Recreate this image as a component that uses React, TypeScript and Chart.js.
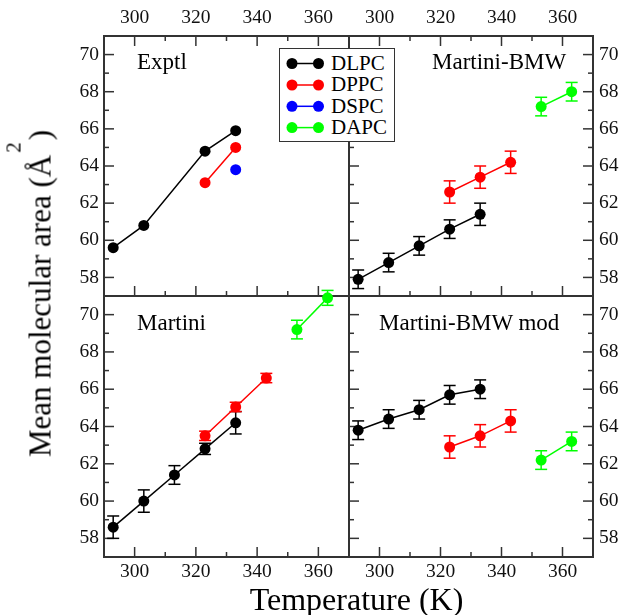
import React, { useEffect, useRef } from 'react';
import { Chart, registerables } from 'chart.js';

Chart.register(...registerables);

const FONT = "'Liberation Serif', 'Times New Roman', Times, serif";
Chart.defaults.font.family = FONT;

const W = 621;
const H = 615;
const FRAME = '#333333';

// ---- axis ranges & tick labels ----
const xRange = [290, 370];
const yRange = [57, 71];
const xTickLabels = [300, 320, 340, 360];
const yTickLabels = [58, 60, 62, 64, 66, 68, 70];

// ---- series names & colours ----
const seriesNames = ['DLPC', 'DPPC', 'DSPC', 'DAPC'];
const seriesColors = ['#000000', '#ff0000', '#0000ff', '#00ff00'];

// ---- temperatures (K) ----
const exptlDlpcT = [293, 303, 323, 333];
const exptlDppcT = [323, 333];
const exptlDspcT = [333];
const simDlpcT = [293, 303, 313, 323, 333];
const simDppcT = [323, 333, 343];
const simDapcT = [353, 363];

// ---- Exptl ----
const exptlDLPC = [59.6, 60.8, 64.8, 65.9];
const exptlDPPC = [63.1, 65.0];
const exptlDSPC = [63.8];

// ---- Martini-BMW ----
const bmwDLPC = [57.9, 58.8, 59.7, 60.6, 61.4];
const bmwDLPCerr = [0.5, 0.5, 0.5, 0.5, 0.6];
const bmwDPPC = [62.6, 63.4, 64.2];
const bmwDPPCerr = [0.6, 0.6, 0.6];
const bmwDAPC = [67.2, 68.0];
const bmwDAPCerr = [0.5, 0.5];

// ---- Martini ----
const martiniDLPC = [58.6, 60.0, 61.4, 62.8, 64.2];
const martiniDLPCerr = [0.6, 0.6, 0.5, 0.3, 0.6];
const martiniDPPC = [63.5, 65.05, 66.6];
const martiniDPPCerr = [0.25, 0.25, 0.25];
const martiniDAPC = [69.2, 70.9];
const martiniDAPCerr = [0.5, 0.4];

// ---- Martini-BMW mod ----
const modDLPC = [63.8, 64.4, 64.9, 65.7, 66.0];
const modDLPCerr = [0.5, 0.5, 0.5, 0.5, 0.5];
const modDPPC = [62.9, 63.5, 64.3];
const modDPPCerr = [0.6, 0.6, 0.6];
const modDAPC = [62.2, 63.2];
const modDAPCerr = [0.5, 0.5];

type Series = { idx: number; T: number[]; A: number[]; err?: number[] };
type PanelDef = {
  title: string;
  titleX: number;
  titleBase: number;
  area: { left: number; top: number; right: number; bottom: number };
  xPos: 'top' | 'bottom';
  yPos: 'left' | 'right';
  ticks: { top: boolean; bottom: boolean; left: boolean; right: boolean };
  series: Series[];
};

const panels: PanelDef[] = [
  {
    title: 'Exptl', titleX: 137, titleBase: 69,
    area: { left: 104, top: 36, right: 349, bottom: 296 },
    xPos: 'top', yPos: 'left',
    ticks: { top: true, bottom: true, left: true, right: false },
    series: [
      { idx: 0, T: exptlDlpcT, A: exptlDLPC },
      { idx: 1, T: exptlDppcT, A: exptlDPPC },
      { idx: 2, T: exptlDspcT, A: exptlDSPC },
    ],
  },
  {
    title: 'Martini-BMW', titleX: 432, titleBase: 69,
    area: { left: 349, top: 36, right: 593, bottom: 296 },
    xPos: 'top', yPos: 'right',
    ticks: { top: true, bottom: true, left: true, right: true },
    series: [
      { idx: 0, T: simDlpcT, A: bmwDLPC, err: bmwDLPCerr },
      { idx: 1, T: simDppcT, A: bmwDPPC, err: bmwDPPCerr },
      { idx: 3, T: simDapcT, A: bmwDAPC, err: bmwDAPCerr },
    ],
  },
  {
    title: 'Martini', titleX: 137, titleBase: 330,
    area: { left: 104, top: 296, right: 349, bottom: 557 },
    xPos: 'bottom', yPos: 'left',
    ticks: { top: false, bottom: true, left: true, right: false },
    series: [
      { idx: 0, T: simDlpcT, A: martiniDLPC, err: martiniDLPCerr },
      { idx: 1, T: simDppcT, A: martiniDPPC, err: martiniDPPCerr },
      { idx: 3, T: simDapcT, A: martiniDAPC, err: martiniDAPCerr },
    ],
  },
  {
    title: 'Martini-BMW mod', titleX: 379, titleBase: 330,
    area: { left: 349, top: 296, right: 593, bottom: 557 },
    xPos: 'bottom', yPos: 'right',
    ticks: { top: false, bottom: true, left: true, right: true },
    series: [
      { idx: 0, T: simDlpcT, A: modDLPC, err: modDLPCerr },
      { idx: 1, T: simDppcT, A: modDPPC, err: modDPPCerr },
      { idx: 3, T: simDapcT, A: modDAPC, err: modDAPCerr },
    ],
  },
];

function makeDecor(p: PanelDef) {
  return {
    id: 'panelDecor',
    beforeDatasetsDraw(chart: any) {
      const { ctx, chartArea: a } = chart;
      const xs = chart.scales.x;
      const ys = chart.scales.y;
      const seg = (x1: number, y1: number, x2: number, y2: number) => {
        ctx.beginPath();
        ctx.moveTo(x1, y1);
        ctx.lineTo(x2, y2);
        ctx.stroke();
      };
      ctx.save();
      ctx.strokeStyle = FRAME;
      ctx.lineWidth = 1.5;
      const major = 10;
      const minor = 5;
      for (let v = xRange[0] + 10; v < xRange[1]; v += 10) {
        const px = xs.getPixelForValue(v);
        const len = xTickLabels.includes(v) ? major : minor;
        if (p.ticks.top) seg(px, a.top, px, a.top + len);
        if (p.ticks.bottom) seg(px, a.bottom, px, a.bottom - len);
      }
      for (let v = yRange[0] + 1; v < yRange[1]; v += 1) {
        const py = ys.getPixelForValue(v);
        const len = yTickLabels.includes(v) ? major : minor;
        if (p.ticks.left) seg(a.left, py, a.left + len, py);
        if (p.ticks.right) seg(a.right, py, a.right - len, py);
      }
      ctx.lineWidth = 2;
      ctx.strokeRect(a.left, a.top, a.right - a.left, a.bottom - a.top);
      // error bars
      ctx.lineWidth = 1.5;
      chart.data.datasets.forEach((ds: any) => {
        if (!ds.errors) return;
        ctx.strokeStyle = ds.borderColor;
        ds.data.forEach((pt: any, i: number) => {
          const e = ds.errors[i];
          const px = xs.getPixelForValue(pt.x);
          const y1 = ys.getPixelForValue(pt.y + e);
          const y2 = ys.getPixelForValue(pt.y - e);
          seg(px, y1, px, y2);
          seg(px - 6, y1, px + 6, y1);
          seg(px - 6, y2, px + 6, y2);
        });
      });
      ctx.restore();
    },
  };
}

function buildConfig(p: PanelDef): any {
  const datasets = p.series.map((s) => {
    const c = seriesColors[s.idx];
    return {
      label: seriesNames[s.idx],
      data: s.T.map((t, i) => ({ x: t, y: s.A[i] })),
      errors: s.err,
      borderColor: c,
      backgroundColor: c,
      pointBackgroundColor: c,
      pointBorderColor: c,
      pointRadius: 5.5,
      pointHoverRadius: 5.5,
      pointBorderWidth: 0,
      borderWidth: 1.5,
      showLine: true,
      tension: 0,
      clip: false,
    };
  });
  const a = p.area;
  const yWidth = p.yPos === 'left' ? a.left - 40 : W - a.right;
  const xHeight = p.xPos === 'top' ? a.top : H - a.bottom;
  const tickFont = { family: FONT, size: 19.5, style: 'normal', weight: 'normal' };
  return {
    type: 'scatter',
    data: { datasets },
    plugins: [makeDecor(p)],
    options: {
      responsive: false,
      animation: false,
      devicePixelRatio: 1,
      events: [],
      font: { family: FONT },
      layout: {
        padding: {
          left: p.yPos === 'left' ? 40 : a.left,
          right: p.yPos === 'right' ? 0 : W - a.right,
          top: p.xPos === 'top' ? 0 : a.top,
          bottom: p.xPos === 'bottom' ? 0 : H - a.bottom,
        },
      },
      plugins: { legend: { display: false }, tooltip: { enabled: false }, title: { display: false } },
      scales: {
        x: {
          type: 'linear',
          position: p.xPos,
          min: xRange[0],
          max: xRange[1],
          grid: { display: false, drawTicks: false },
          border: { display: false },
          ticks: {
            stepSize: 10,
            autoSkip: false,
            maxRotation: 0,
            minRotation: 0,
            padding: p.xPos === 'top' ? 6 : 3,
            color: '#111111',
            font: tickFont,
            callback: (v: number) => (xTickLabels.includes(v) ? String(v) : ''),
          },
          afterFit: (sc: any) => { sc.height = xHeight; },
        },
        y: {
          type: 'linear',
          position: p.yPos,
          min: yRange[0],
          max: yRange[1],
          grid: { display: false, drawTicks: false },
          border: { display: false },
          ticks: {
            stepSize: 1,
            autoSkip: false,
            padding: p.yPos === 'left' ? 5 : 6,
            color: '#111111',
            font: tickFont,
            callback: (v: number) => (yTickLabels.includes(v) ? String(v) : ''),
          },
          afterFit: (sc: any) => { sc.width = yWidth; },
        },
      },
    },
  };
}

function Panel({ p }: { p: PanelDef }) {
  const ref = useRef<HTMLCanvasElement>(null);
  useEffect(() => {
    const chart = new Chart(ref.current as HTMLCanvasElement, buildConfig(p));
    let alive = true;
    if ((document as any).fonts && (document as any).fonts.load) {
      (document as any).fonts.load("20px 'Liberation Serif'").then(() => {
        if (alive) chart.update();
      });
    }
    return () => {
      alive = false;
      chart.destroy();
    };
  }, [p]);
  return (
    <canvas
      ref={ref}
      width={W}
      height={H}
      style={{ position: 'absolute', left: 0, top: 0, width: W, height: H }}
    />
  );
}

function Txt({ x, base, size, children, center }: { x: number; base: number; size: number; children: any; center?: boolean }) {
  const top = base - 0.8375 * size;
  return (
    <div
      style={{
        position: 'absolute',
        left: center ? x - 200 : x,
        width: center ? 400 : undefined,
        textAlign: center ? 'center' : 'left',
        top,
        fontSize: size,
        lineHeight: `${size}px`,
        whiteSpace: 'nowrap',
        fontFamily: FONT,
        color: '#000',
      }}
    >
      {children}
    </div>
  );
}

function Legend() {
  const left = 279;
  const top = 48;
  const rows = [63.5, 85, 106.3, 127.6];
  return (
    <>
      <div
        style={{
          position: 'absolute',
          left,
          top,
          width: 116,
          height: 94,
          boxSizing: 'border-box',
          border: `1.5px solid ${FRAME}`,
          background: '#fff',
        }}
      />
      <svg style={{ position: 'absolute', left: 0, top: 0 }} width={W} height={H}>
        {seriesNames.map((n, i) => (
          <g key={n}>
            <line x1={292} y1={rows[i]} x2={318.5} y2={rows[i]} stroke={seriesColors[i]} strokeWidth={1.5} />
            <circle cx={292} cy={rows[i]} r={5.5} fill={seriesColors[i]} />
            <circle cx={318.5} cy={rows[i]} r={5.5} fill={seriesColors[i]} />
          </g>
        ))}
      </svg>
      {seriesNames.map((n, i) => (
        <Txt key={n} x={331} base={rows[i] + 7} size={21}>{n}</Txt>
      ))}
    </>
  );
}

export default function App() {
  const ySize = 31;
  const yCx = 50 - 0.3375 * ySize;
  const yCy = 293.5;
  return (
    <div style={{ position: 'absolute', left: 0, top: 0, width: W, height: H, background: '#fff', overflow: 'hidden', fontFamily: FONT }}>
      {panels.map((p) => (
        <Panel key={p.title} p={p} />
      ))}
      {panels.map((p) => (
        <Txt key={'t' + p.title} x={p.titleX} base={p.titleBase} size={23}>{p.title}</Txt>
      ))}
      <Legend />
      <Txt x={356.5} base={610} size={32} center>Temperature (K)</Txt>
      <div
        style={{
          position: 'absolute',
          left: yCx - 200,
          top: yCy - ySize / 2,
          width: 400,
          height: ySize,
          lineHeight: `${ySize}px`,
          fontSize: ySize,
          fontFamily: FONT,
          textAlign: 'center',
          whiteSpace: 'nowrap',
          transform: 'rotate(-90deg)',
          transformOrigin: '50% 50%',
          color: '#000',
        }}
      >
        Mean molecular area (Å
        <span style={{ position: 'relative', top: -30, fontSize: 21, marginLeft: 2, marginRight: 2 }}>2</span>)
      </div>
    </div>
  );
}
